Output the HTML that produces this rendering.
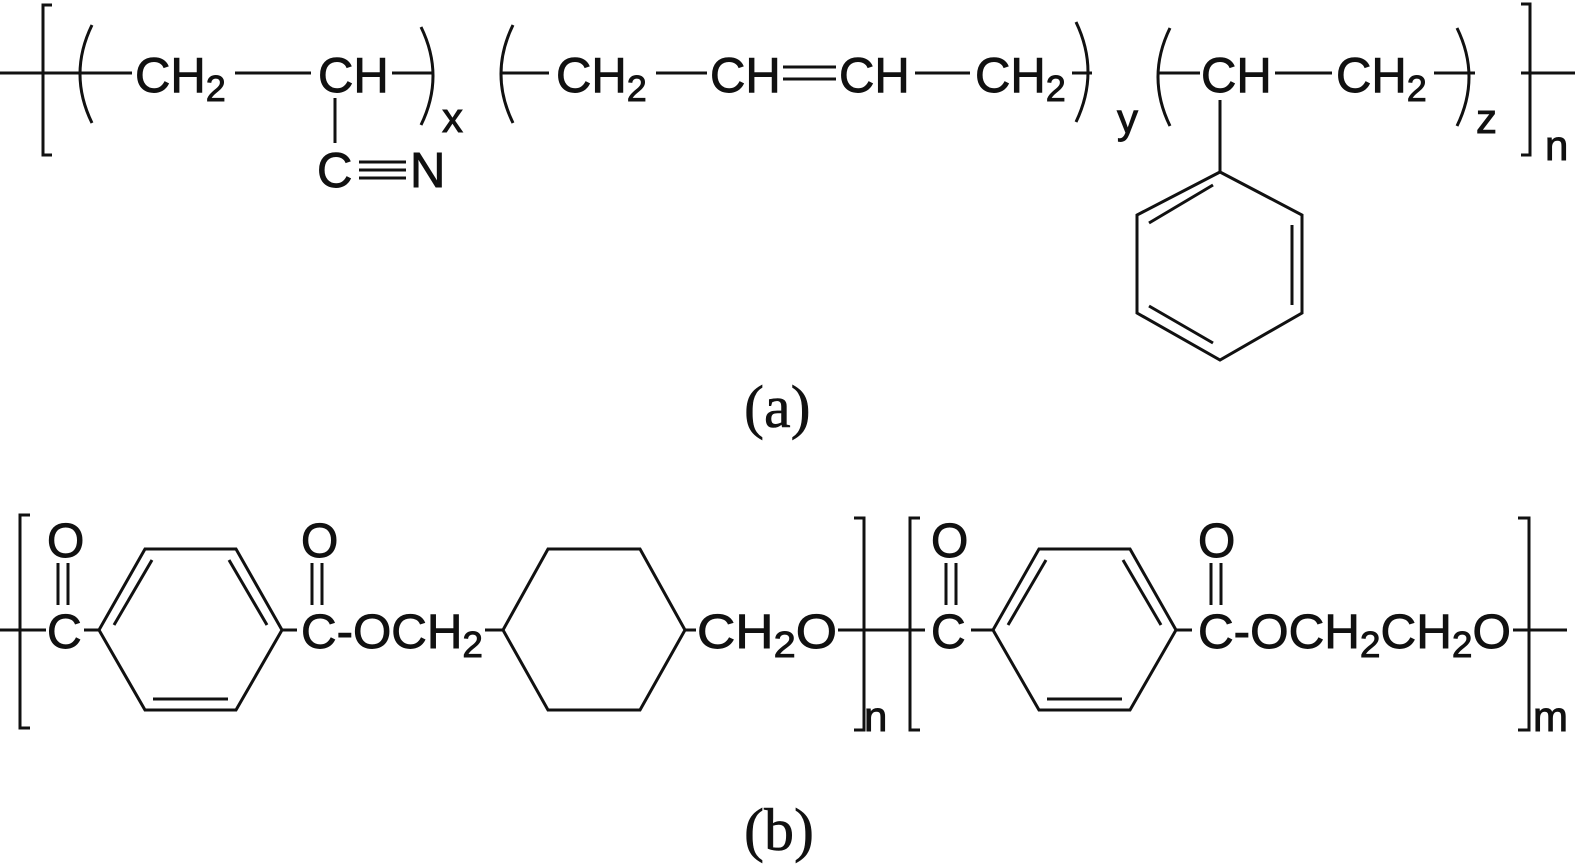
<!DOCTYPE html>
<html><head><meta charset="utf-8"><style>
html,body{margin:0;padding:0;background:#fff;}
svg{display:block;}
text{font-family:"Liberation Sans",sans-serif;fill:#111;stroke:#111;stroke-width:0.9;}
.s{font-family:"Liberation Serif",serif;stroke-width:0.6;}
</style></head><body>
<svg width="1575" height="864" viewBox="0 0 1575 864" xmlns="http://www.w3.org/2000/svg">
<g stroke="#111" stroke-width="3" fill="none">
<line x1="0" y1="73" x2="132" y2="73"/>
<line x1="235" y1="73" x2="311" y2="73"/>
<line x1="392" y1="73" x2="434" y2="73"/>
<line x1="500" y1="73" x2="549" y2="73"/>
<line x1="656" y1="73" x2="707" y2="73"/>
<line x1="783" y1="67" x2="836" y2="67"/>
<line x1="783" y1="79" x2="836" y2="79"/>
<line x1="915" y1="73" x2="970" y2="73"/>
<line x1="1072" y1="73" x2="1092" y2="73"/>
<line x1="1158" y1="73" x2="1200" y2="73"/>
<line x1="1275" y1="73" x2="1332" y2="73"/>
<line x1="1434" y1="73" x2="1475" y2="73"/>
<line x1="1521" y1="73" x2="1575" y2="73"/>
<polyline points="52,5 43,5 43,155 52,155"/>
<polyline points="1521,4 1530,4 1530,155 1521,155"/>
<path d="M92,25 Q68,74 92,123"/>
<path d="M421,27 Q445,76 421,125"/>
<path d="M513,25 Q489,74 513,123"/>
<path d="M1076,22 Q1100,72 1076,122"/>
<path d="M1170,28 Q1146,77 1170,126"/>
<path d="M1457,28 Q1481,77 1457,126"/>
<line x1="335" y1="98" x2="335" y2="143"/>
<line x1="359" y1="162" x2="406" y2="162"/>
<line x1="359" y1="170" x2="406" y2="170"/>
<line x1="359" y1="178" x2="406" y2="178"/>
<line x1="1220" y1="100" x2="1220" y2="172"/>
<polygon points="1220,172 1302,215 1302,313 1220,360 1137,313 1137,215"/>
<line x1="1149" y1="223" x2="1213" y2="185"/>
<line x1="1292" y1="225" x2="1292" y2="305"/>
<line x1="1149" y1="306" x2="1213" y2="343"/>

<line x1="0" y1="630" x2="46" y2="630"/>
<polyline points="30,515 20,515 20,728 30,728"/>
<line x1="58" y1="563" x2="58" y2="605"/>
<line x1="68" y1="563" x2="68" y2="605"/>
<line x1="84" y1="630" x2="99" y2="630"/>
<polygon points="99,630 145,549 236,549 282,630 236,710 145,710"/>
<line x1="114" y1="625" x2="152" y2="560"/>
<line x1="229" y1="560" x2="267" y2="625"/>
<line x1="153" y1="699" x2="228" y2="699"/>
<line x1="282" y1="630" x2="297" y2="630"/>
<line x1="312" y1="563" x2="312" y2="605"/>
<line x1="322" y1="563" x2="322" y2="605"/>
<line x1="485" y1="630" x2="503" y2="630"/>
<polygon points="503,630 548,549 640,549 685,630 640,710 548,710"/>
<line x1="685" y1="630" x2="696" y2="630"/>
<line x1="838" y1="630" x2="925" y2="630"/>
<polyline points="854,518 864,518 864,730 854,730"/>
<polyline points="920,518 910,518 910,730 920,730"/>
<line x1="946" y1="563" x2="946" y2="605"/>
<line x1="956" y1="563" x2="956" y2="605"/>
<line x1="971" y1="630" x2="993" y2="630"/>
<polygon points="993,630 1039,549 1130,549 1176,630 1130,710 1039,710"/>
<line x1="1008" y1="625" x2="1046" y2="560"/>
<line x1="1123" y1="560" x2="1161" y2="625"/>
<line x1="1047" y1="699" x2="1122" y2="699"/>
<line x1="1176" y1="630" x2="1192" y2="630"/>
<line x1="1211" y1="563" x2="1211" y2="605"/>
<line x1="1221" y1="563" x2="1221" y2="605"/>
<line x1="1513" y1="630" x2="1567" y2="630"/>
<polyline points="1518,518 1529,518 1529,730 1518,730"/>
</g>

<g font-size="49">
<text x="135" y="92">CH<tspan font-size="36" dy="9">2</tspan></text>
<text x="318" y="92">CH</text>
<text x="556" y="92">CH<tspan font-size="36" dy="9">2</tspan></text>
<text x="710" y="92">CH</text>
<text x="839" y="92">CH</text>
<text x="975" y="92">CH<tspan font-size="36" dy="9">2</tspan></text>
<text x="1201" y="92">CH</text>
<text x="1336" y="92">CH<tspan font-size="36" dy="9">2</tspan></text>
<text x="317" y="187">C</text>
<text x="410" y="187">N</text>
</g>
<g font-size="42">
<text x="442" y="132">x</text>
<text x="1117" y="133">y</text>
<text x="1476" y="133">z</text>
<text x="1545" y="160">n</text>
</g>
<text class="s" x="744" y="427" font-size="60">(a)</text>

<g font-size="48">
<text x="47" y="557">O</text>
<text x="47" y="648">C</text>
<text x="301" y="557">O</text>
<text x="301" y="648" textLength="182" lengthAdjust="spacingAndGlyphs">C-OCH<tspan font-size="36" dy="9">2</tspan></text>
<text x="697" y="648" textLength="140" lengthAdjust="spacingAndGlyphs">CH<tspan font-size="36" dy="9">2</tspan><tspan dy="-9">O</tspan></text>
<text x="931" y="557">O</text>
<text x="931" y="648">C</text>
<text x="1198" y="557">O</text>
<text x="1198" y="648" textLength="313" lengthAdjust="spacingAndGlyphs">C-OCH<tspan font-size="36" dy="9">2</tspan><tspan dy="-9">CH</tspan><tspan font-size="36" dy="9">2</tspan><tspan dy="-9">O</tspan></text>
</g>
<g font-size="42">
<text x="864" y="731">n</text>
<text x="1533" y="731">m</text>
</g>
<text class="s" x="744" y="850" font-size="60">(b)</text>
</svg>
</body></html>
